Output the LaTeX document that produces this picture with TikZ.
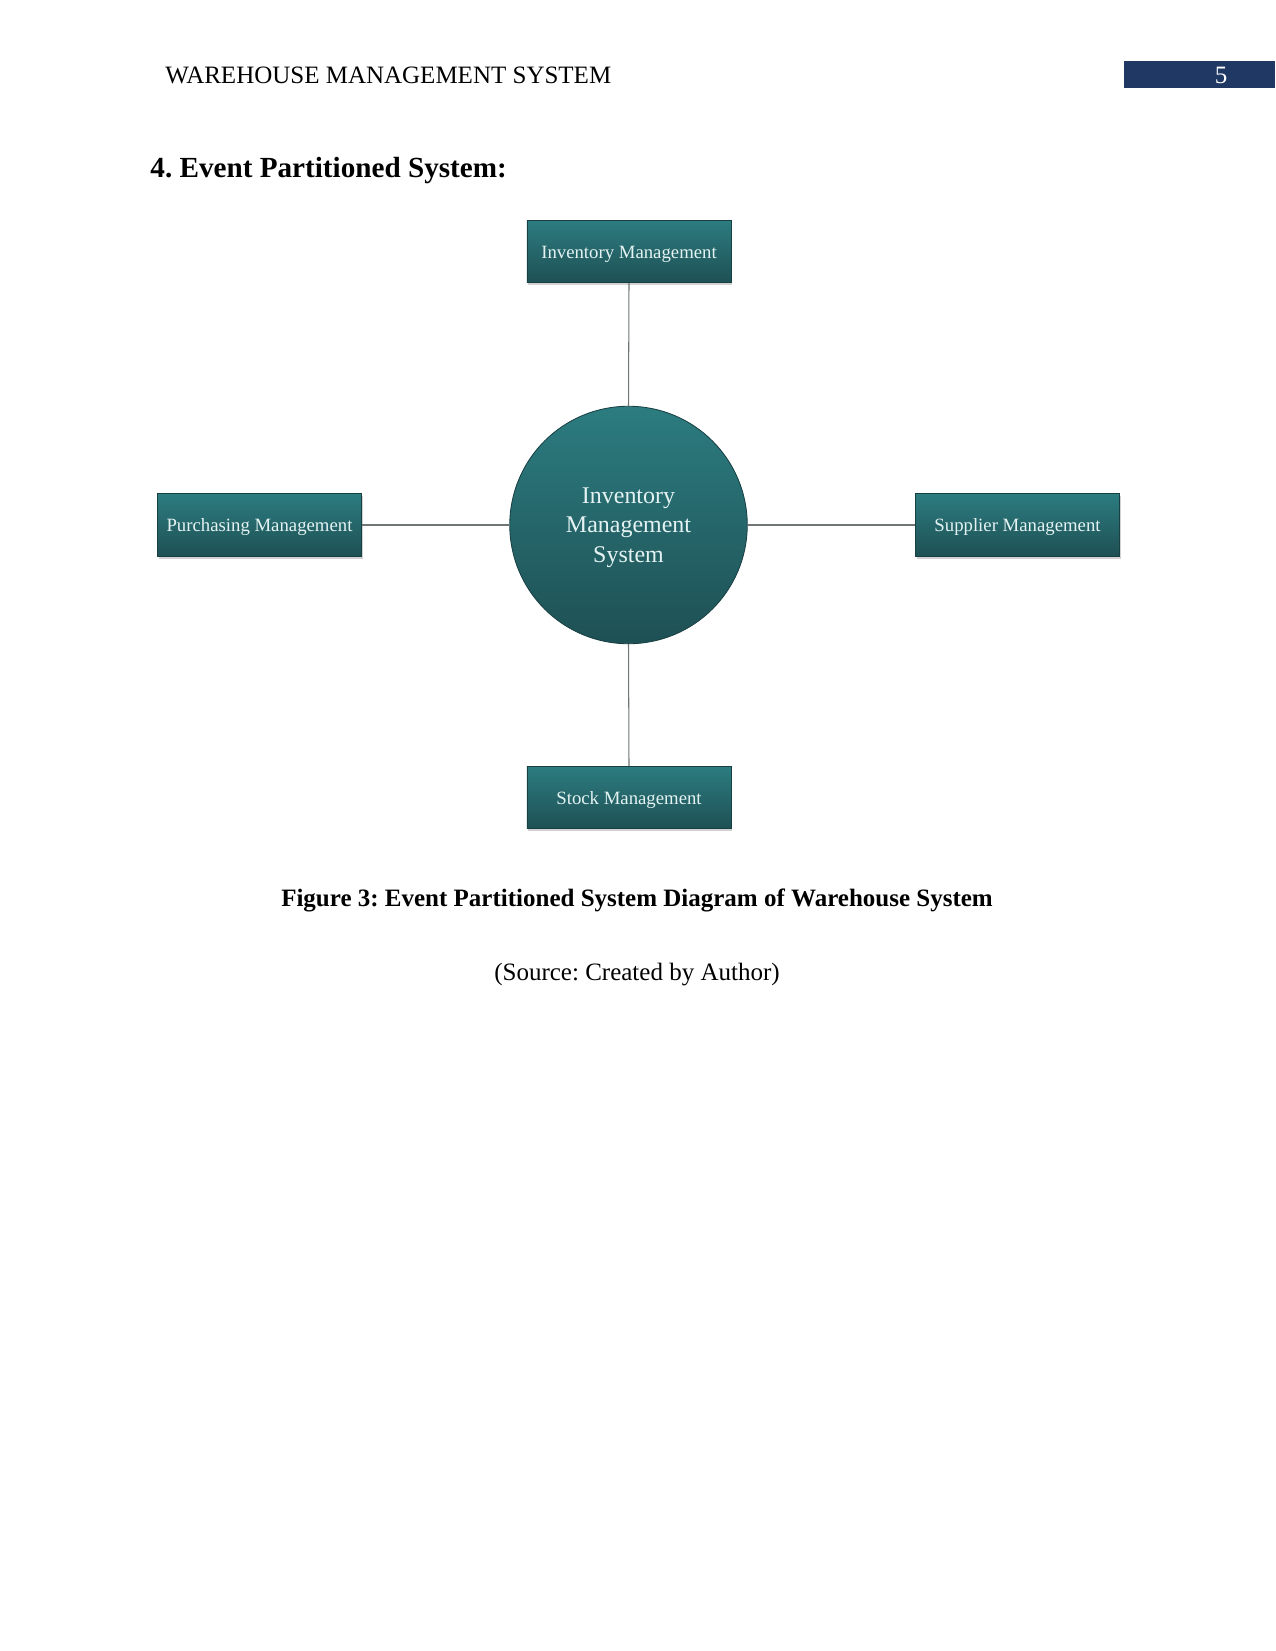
\documentclass[tikz,border=0pt]{standalone}
\usepackage{fontspec}
\setmainfont{Liberation Serif}
\usepackage{tikz}
\usetikzlibrary{positioning,shadows}
\definecolor{tealtop}{RGB}{44,124,128}
\definecolor{tealbot}{RGB}{30,80,84}
\definecolor{paletext}{RGB}{228,242,242}
\definecolor{linkgray}{RGB}{110,118,118}
\definecolor{navyband}{RGB}{31,56,100}
\frenchspacing

\tikzset{
  modbox/.style={draw=tealbot!80!black, line width=0.4pt, top color=tealtop, bottom color=tealbot,
    minimum width=98pt, minimum height=30pt, inner sep=2pt, align=center,
    text height=6.5pt, text depth=0pt,
    text=paletext, font=\fontsize{9}{11}\selectfont,
    drop shadow={shadow xshift=0.6pt, shadow yshift=-1.2pt, opacity=0.35}},
  hub/.style={circle, draw=tealbot!80!black, line width=0.4pt, top color=tealtop, bottom color=tealbot,
    minimum size=114pt, inner sep=0pt, align=center, text depth=0pt,
    text=paletext, font=\fontsize{11.5}{14}\selectfont},
  link/.style={draw=linkgray, line width=0.5pt}
}

\begin{document}
\begin{tikzpicture}[x=0.48pt, y=-0.48pt]
    \useasboundingbox[fill=white] (0,0) rectangle (1275,1651);

    % ---- page header ----
    \node[anchor=west, font=\fontsize{12}{14}\selectfont, inner sep=0pt] (header) at (165,75) {WAREHOUSE MANAGEMENT SYSTEM};
    \fill[navyband] (1124,61) rectangle (1275,88);
    \node[text=white, font=\fontsize{12}{14}\selectfont, inner sep=0pt] (pagenum) at (1221,75) {5};

    % ---- heading ----
    \node[anchor=west, font=\fontsize{14}{16}\bfseries, inner sep=0pt] (heading) at (150,171) {4. Event Partitioned System:};

    % ---- centre ----
    \node[hub] (ims) at (628.5,525) {Inventory\\Management\\System};

    % ---- four partitions ----
    \node[modbox] (invmgmt) at (629,251.5) {Inventory Management};
    \node[modbox] (purmgmt) at (259.5,525) {Purchasing Management};
    \node[modbox] (supmgmt) at (1017.5,525) {Supplier Management};
    \node[modbox] (stkmgmt) at (629,797.5) {Stock Management};

    % ---- links ----
    \draw[link] (invmgmt.south) -- (ims.north);
    \draw[link] (purmgmt.east) -- (ims.west);
    \draw[link] (ims.east) -- (supmgmt.west);
    \draw[link] (ims.south) -- (stkmgmt.north);

    % ---- caption ----
    \node[font=\fontsize{12}{14}\bfseries, inner sep=0pt] (caption) at (637,900) {Figure 3: Event Partitioned System Diagram of Warehouse System};
    \node[font=\fontsize{12}{14}\selectfont, inner sep=0pt] (source) at (637,975) {(Source: Created by Author)};

\end{tikzpicture}
\end{document}
